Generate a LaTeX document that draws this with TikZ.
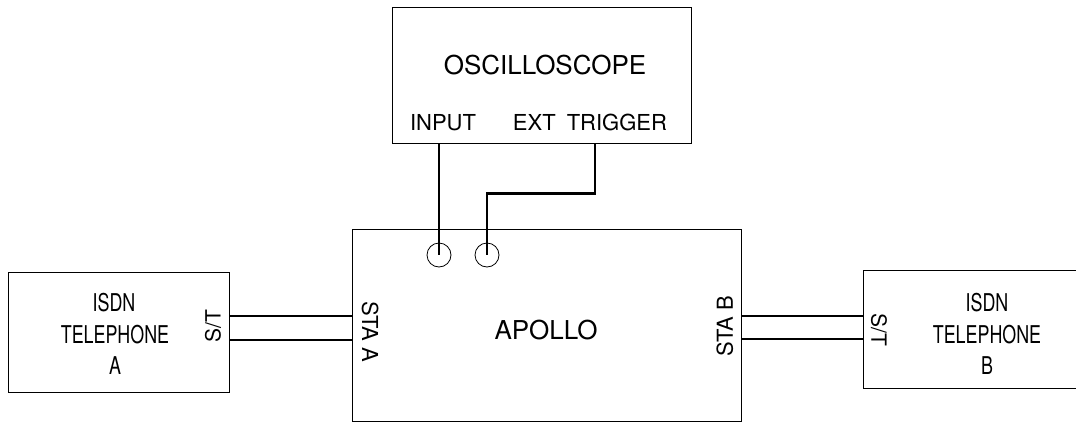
\documentclass[tikz,border=0pt]{standalone}
\usepackage{fontspec}
\setmainfont{TeX Gyre Heros}
\newfontfamily\narrowfont[FakeStretch=0.73]{TeX Gyre Heros}
\begin{document}
\begin{tikzpicture}[x=1pt,y=-1pt,
  box/.style={draw, line width=0.8pt, rectangle, inner sep=0pt},
  wire/.style={line width=2.6pt},
  pair/.style={line width=2.2pt},
  jack/.style={draw, circle, line width=0.8pt, minimum size=24pt, inner sep=0pt},
  big/.style={inner sep=0pt, text depth=0pt, text height=18.7pt, font=\fontsize{26}{30}\selectfont},
  mid/.style={inner sep=0pt, text depth=0pt, text height=15.8pt, font=\fontsize{22}{26}\selectfont},
  tel/.style={inner sep=0pt, text depth=0pt, text height=17.6pt, font=\narrowfont\fontsize{24.5}{28}\selectfont}]
\useasboundingbox (0,0) rectangle (1076,424);
\clip (0,0) rectangle (1076,424);

% boxes
\node[box, minimum width=299pt, minimum height=136pt] (osc) at (541.5,75) {};
\node[box, minimum width=389pt, minimum height=192pt] (apollo) at (546.5,325) {};
\node[box, minimum width=221pt, minimum height=120pt] (telA) at (118.5,332) {};
\node[box, minimum width=248pt, minimum height=118pt] (telB) at (987,329) {};

% texts
\node[big] (osctxt) at (545,65) {OSCILLOSCOPE};
\node[mid] (inp) at (443,123) {INPUT};
\node[mid] (ext) at (590,123) {EXT\hspace{0.5em}TRIGGER};
\node[big] (apotxt) at (546,330) {APOLLO};
\node[mid, rotate=-90] (staA) at (370,332) {STA A};
\node[mid, rotate=90] (staB) at (725,326) {STA B};
\node[mid, rotate=90, font=\fontsize{21}{25}\selectfont, text height=15.1pt] (stA) at (213,326) {S/T};
\node[mid, rotate=-90, font=\fontsize{21}{25}\selectfont, text height=15.1pt] (stB) at (879,330) {S/T};

\node[tel] (ta1) at (114,303) {ISDN};
\node[tel] (ta2) at (115,335) {TELEPHONE};
\node[tel] (ta3) at (115,366) {A};
\node[tel] (tb1) at (987,303) {ISDN};
\node[tel] (tb2) at (987,335) {TELEPHONE};
\node[tel] (tb3) at (987,366) {B};

% jacks
\node[jack] (c1) at (439,255) {};
\node[jack] (c2) at (487,255) {};

% oscilloscope wires
\coordinate (inpout) at (439,143);
\coordinate (trig) at (595,143);
\draw[wire] (osc.south -| inpout) -- (c1.center);
\draw[wire] (osc.south -| trig) -- ++(0,50) -| (c2.center);

% S/T pairs
\coordinate (la) at (0,316);
\coordinate (lb) at (0,340);
\coordinate (lc) at (0,316);
\coordinate (ld) at (0,339);
\draw[pair] (telA.east |- la) -- (apollo.west |- la);
\draw[pair] (telA.east |- lb) -- (apollo.west |- lb);
\draw[pair] (apollo.east |- lc) -- (telB.west |- lc);
\draw[pair] (apollo.east |- ld) -- (telB.west |- ld);
\end{tikzpicture}
\end{document}
